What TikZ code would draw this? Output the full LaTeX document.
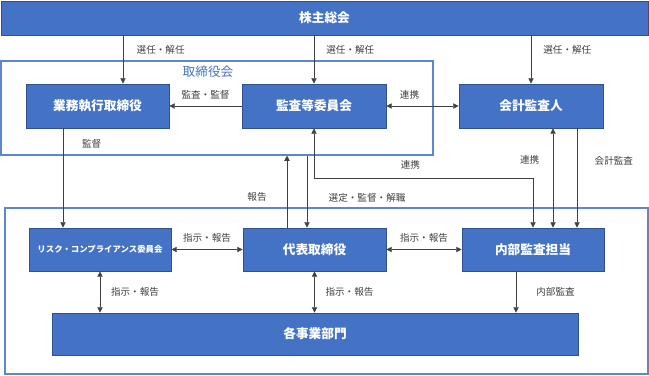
\documentclass[tikz,border=0pt]{standalone}
\usepackage{fontspec}
\setmainfont{Noto Sans CJK JP}
\usetikzlibrary{arrows.meta,positioning}
\definecolor{boxblue}{HTML}{4472C4}
\definecolor{boxedge}{HTML}{2F528F}
\definecolor{frameblue}{HTML}{5B86D0}
\definecolor{lblgray}{HTML}{404040}

\begin{document}
\begin{tikzpicture}[
    x=0.75pt, y=-0.75pt,
    box/.style={draw=boxedge, fill=boxblue, text=white, line width=0.6pt, inner sep=1pt,
        font=\fontsize{9.5}{11}\selectfont\bfseries},
    frame/.style={draw=frameblue, line width=0.8pt, inner sep=0pt},
    lbl/.style={font=\fontsize{7.2}{8}\selectfont, text=lblgray, inner sep=1pt},
    arrow/.style={draw=black!75, line width=0.5pt, -{Triangle[length=4pt,width=4pt]}},
    biarrow/.style={draw=black!75, line width=0.5pt,
        {Triangle[length=4pt,width=4pt]}-{Triangle[length=4pt,width=4pt]}}
]
\useasboundingbox (0,0) rectangle (649,375);

\node[frame, minimum width=324pt, minimum height=70.5pt] (board) at (217,108) {};
\node[font=\fontsize{9.5}{11}\selectfont, text=boxblue] (boardtitle) at (208,72) {取締役会};
\node[frame, minimum width=482.25pt, minimum height=124.5pt] (org) at (326.5,291) {};

\node[box, minimum width=485.25pt, minimum height=25.5pt] (agm) at (324.5,18) {株主総会};

\node[box, minimum width=107.25pt, minimum height=33pt] (exec) at (97.5,106) {業務執行取締役};
\node[box, minimum width=108pt, minimum height=33pt] (acc) at (314,106) {監査等委員会};
\node[box, minimum width=108pt, minimum height=33pt] (auditor) at (531,106) {会計監査人};

\node[box, minimum width=106.5pt, minimum height=32.25pt,
    font=\fontsize{6.3}{7.5}\selectfont\bfseries] (risk) at (100,249.5) {リスク・コンプライアンス委員会};
\node[box, minimum width=107.25pt, minimum height=32.25pt] (ceo) at (314.5,249.5) {代表取締役};
\node[box, minimum width=106.5pt, minimum height=32.25pt] (ia) at (533,249.5) {内部監査担当};
\node[box, minimum width=394.5pt, minimum height=31.5pt] (depts) at (315,334) {各事業部門};

\draw[arrow] (agm.south -| 123,0) -- node[lbl, pos=.3, right=9pt] {選任・解任} (exec.north -| 123,0);
\draw[arrow] (agm.south -| acc.north) -- node[lbl, pos=.3, right=8pt] {選任・解任} (acc.north);
\draw[arrow] (agm.south -| auditor.north) -- node[lbl, pos=.3, right=8pt] {選任・解任} (auditor.north);
\draw[arrow] (acc.west) -- node[lbl, above=4pt] {監査・監督} (exec.east);
\draw[biarrow] (acc.east) -- node[lbl, pos=.32, above=4pt] {連携} (auditor.west);
\draw[arrow] (exec.south -| 63,0) -- node[lbl, pos=.16, right=13pt] {監督} (risk.north -| 63,0);

\draw[arrow] (ceo.north -| 287,0) -- node[lbl, pos=.42, left=14pt] {報告} (board.south -| 287,0);
\draw[arrow] (board.south -| 307,0) -- node[lbl, pos=.59, right=15pt] {選定・監督・解職} (ceo.north -| 307,0);
\draw[biarrow] (acc.south) |- node[lbl, pos=.72, above=5pt] {連携} (ia.north |- 0,178) -- (ia.north);
\draw[biarrow] (auditor.south -| 553,0) -- node[lbl, pos=.32, left=9pt] {連携} (ia.north -| 553,0);
\draw[arrow] (auditor.south -| 577,0) -- node[lbl, pos=.33, right=12pt] {会計監査} (ia.north -| 577,0);

\draw[biarrow] (risk.east) -- node[lbl, above=4pt] {指示・報告} (ceo.west);
\draw[biarrow] (ceo.east) -- node[lbl, above=4pt] {指示・報告} (ia.west);
\draw[biarrow] (risk.south) -- node[lbl, right=7pt] {指示・報告} (depts.north -| risk.south);
\draw[biarrow] (ceo.south) -- node[lbl, right=7pt] {指示・報告} (depts.north -| ceo.south);
\draw[arrow] (ia.south -| 516,0) -- node[lbl, right=14pt] {内部監査} (depts.north -| 516,0);

\end{tikzpicture}
\end{document}
